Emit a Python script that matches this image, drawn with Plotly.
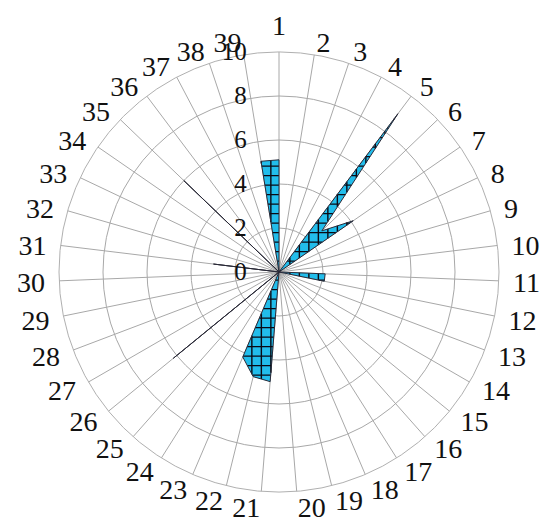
import numpy as np
import plotly.graph_objects as go

categories = [str(i) for i in range(1, 40)]
values = [5.1, 0, 0, 0, 9.0, 2.7, 4.1, 0, 0, 0,
          2.1, 2.1, 0, 0, 0, 0, 0, 0, 0, 0,
          5.0, 4.9, 4.2, 0, 0, 6.2, 0, 0, 0, 0,
          3.0, 0, 0, 0, 6.0, 0, 0, 0, 5.1]
radial_ticks = [0, 2, 4, 6, 8, 10]

W, H = 557, 517
cx, cy, R = 271, 264, 220   # page body has an 8px margin
RMAX = 10.0
R2 = 246                    # outer frame used only to hold the category labels
cy2 = cy + 4                # label frame nudged down slightly
RMAX2 = RMAX * R2 / R       # same px-per-unit scale as the main polar
LABEL_R = 10.65             # where the category labels sit (just outside the outer ring)

n = len(categories)
step = 360.0 / n
theta_deg = [i * step for i in range(n)]

# ---- hatch ("+" grid) texture inside the filled polygon, built from the same data ----
px_per_unit = R / RMAX
spacing = 9.5 / px_per_unit
t = np.radians(theta_deg)
vx = np.array(values) * np.sin(t)
vy = np.array(values) * np.cos(t)
poly = list(zip(vx, vy)) + [(vx[0], vy[0])]


def crossings(coord_fixed, horizontal):
    pts = []
    for (x1, y1), (x2, y2) in zip(poly[:-1], poly[1:]):
        a1, a2 = (y1, y2) if horizontal else (x1, x2)
        b1, b2 = (x1, x2) if horizontal else (y1, y2)
        if (a1 <= coord_fixed < a2) or (a2 <= coord_fixed < a1):
            f = (coord_fixed - a1) / (a2 - a1)
            pts.append(b1 + f * (b2 - b1))
    return sorted(pts)


hr, ht = [], []


def add_seg(p, q):
    for (x, y) in (p, q):
        hr.append(float(np.hypot(x, y)))
        ht.append(float(np.degrees(np.arctan2(x, y)) % 360))
    hr.append(None)
    ht.append(None)


k_range = np.arange(-RMAX, RMAX + spacing, spacing) + 0.13
for c in k_range:
    xs = crossings(c, True)
    for a, b in zip(xs[0::2], xs[1::2]):
        add_seg((a, c), (b, c))
    ys = crossings(c, False)
    for a, b in zip(ys[0::2], ys[1::2]):
        add_seg((c, a), (c, b))

# label anchoring like the reference: right half starts at the point, left half ends at it
label_pos = []
for th in theta_deg:
    if abs(th) < 1e-6:
        label_pos.append("top center")
    elif th < 180:
        label_pos.append("middle right")
    else:
        label_pos.append("middle left")


def clamp(v):
    return min(1.0, max(0.0, v))


fig = go.Figure()
fig.add_trace(go.Scatterpolar(
    r=values + [values[0]],
    theta=theta_deg + [theta_deg[0]],
    mode="lines",
    fill="toself",
    fillcolor="#22BDEB",
    line=dict(color="rgba(0,0,0,0)", width=0),
    showlegend=False, hoverinfo="skip",
))
fig.add_trace(go.Scatterpolar(
    r=hr, theta=ht,
    mode="lines",
    line=dict(color="#0a0a14", width=1.4),
    showlegend=False, hoverinfo="skip",
))
fig.add_trace(go.Scatterpolar(
    r=values + [values[0]],
    theta=theta_deg + [theta_deg[0]],
    mode="lines",
    line=dict(color="#2a2a38", width=1),
    showlegend=False,
))
fig.add_trace(go.Scatterpolar(
    r=[LABEL_R] * n,
    theta=theta_deg,
    mode="text",
    text=categories,
    textposition=label_pos,
    textfont=dict(family="Liberation Serif", size=28, color="#111111"),
    cliponaxis=False,
    subplot="polar2",
    showlegend=False, hoverinfo="skip",
))

fig.update_layout(
    width=W, height=H,
    margin=dict(l=0, r=0, t=0, b=0),
    paper_bgcolor="white",
    font=dict(family="Liberation Serif", color="#111111"),
    polar=dict(
        domain=dict(x=[clamp((cx - R) / W), clamp((cx + R) / W)],
                    y=[clamp(1 - (cy + R) / H), clamp(1 - (cy - R) / H)]),
        bgcolor="white",
        angularaxis=dict(
            thetaunit="degrees",
            tickvals=theta_deg,
            ticktext=categories,
            showticklabels=False,
            rotation=90,
            direction="clockwise",
            showline=True, linecolor="#b0b0b0", linewidth=1,
            showgrid=True, gridcolor="#a8a8a8", gridwidth=1,
            ticks="",
        ),
        radialaxis=dict(
            range=[0, RMAX],
            tickvals=radial_ticks,
            ticktext=[str(v) for v in radial_ticks],
            angle=90,
            side="counterclockwise",
            tickangle=90,
            showline=False,
            showgrid=True, gridcolor="#a8a8a8", gridwidth=1,
            ticks="outside", ticklen=23, tickcolor="rgba(0,0,0,0)",
            tickfont=dict(family="Liberation Serif", size=25, color="#111111"),
        ),
    ),
    polar2=dict(
        domain=dict(x=[clamp((cx - R2) / W), clamp((cx + R2) / W)],
                    y=[clamp(1 - (cy2 + R2) / H), clamp(1 - (cy2 - R2) / H)]),
        bgcolor="rgba(0,0,0,0)",
        angularaxis=dict(
            thetaunit="degrees",
            rotation=90,
            direction="clockwise",
            showticklabels=False, showline=False, showgrid=False, ticks="",
        ),
        radialaxis=dict(
            range=[0, RMAX2],
            showticklabels=False, showline=False, showgrid=False, ticks="",
        ),
    ),
)

fig.write_html("out.html")
